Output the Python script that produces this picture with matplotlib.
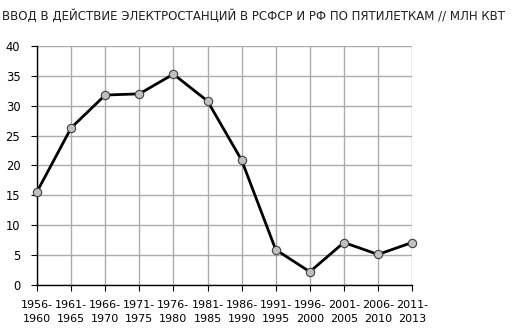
import matplotlib
matplotlib.use('Agg')
import matplotlib.pyplot as plt

# five-year periods and capacity commissioned, mln kW
periods = ["1956-\n1960", "1961-\n1965", "1966-\n1970", "1971-\n1975", "1976-\n1980", "1981-\n1985",
           "1986-\n1990", "1991-\n1995", "1996-\n2000", "2001-\n2005", "2006-\n2010", "2011-\n2013"]
values = [15.6, 26.3, 31.8, 32.0, 35.3, 30.8, 20.9, 5.9, 2.2, 7.1, 5.1, 7.1]
y_ticks = [0, 5, 10, 15, 20, 25, 30, 35, 40]

fig = plt.figure(figsize=(5.17, 3.34), dpi=100)
ax = fig.add_axes([0.0716, 0.147, 0.7255, 0.715])

x = list(range(len(periods)))
ax.plot(x, values, color="black", linewidth=2, marker="o", markersize=6,
        markerfacecolor="#c0c0c0", markeredgecolor="#404040", markeredgewidth=0.8,
        zorder=3, clip_on=False)

ax.set_xlim(0, len(periods) - 1)
ax.set_ylim(0, 40)
ax.set_yticks(y_ticks)
ax.set_xticks(x)
ax.set_xticklabels(periods, fontsize=8, linespacing=1.5)
ax.tick_params(axis="y", labelsize=8.3, length=4, direction="out", pad=8)
ax.tick_params(axis="x", length=4, direction="out", pad=7)
ax.grid(True, color="#ababab", linewidth=1)
ax.set_axisbelow(True)

for side in ["top", "right"]:
    ax.spines[side].set_visible(False)
for side in ["left", "bottom"]:
    ax.spines[side].set_color("black")
    ax.spines[side].set_linewidth(1)

fig.text(0.004, 0.952, "ВВОД В ДЕЙСТВИЕ ЭЛЕКТРОСТАНЦИЙ В РСФСР И РФ ПО ПЯТИЛЕТКАМ // МЛН КВТ",
         fontsize=8.5, ha="left", va="center", color="#202020")

plt.savefig("out.png", dpi=100)
